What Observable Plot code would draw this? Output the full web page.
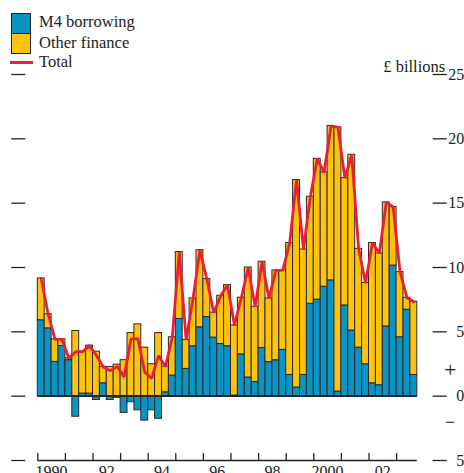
<!DOCTYPE html>
<html>
<head>
<meta charset="utf-8">
<script src="https://cdn.jsdelivr.net/npm/d3@7"></script>
<script src="https://cdn.jsdelivr.net/npm/@observablehq/plot@0.6"></script>
<style>
  body { margin: 0; background: #fff; }
  #wrap { position: relative; width: 464px; height: 473px; overflow: hidden; font-family: "Liberation Serif", serif; color: #222; }
  #chart { position: absolute; left: 0; top: 0; }
  .sw { position: absolute; box-sizing: border-box; border: 1.5px solid #222; }
  .lt { position: absolute; font-size: 16.5px; line-height: 20px; height: 20px; white-space: nowrap; }
</style>
</head>
<body>
<div id="wrap">
  <div id="chart"></div>
  <div class="sw" style="left:11px;top:13px;width:20px;height:21px;background:#0a93c3;"></div>
  <div class="sw" style="left:11px;top:33px;width:20px;height:21px;background:#ffc20e;"></div>
  <div style="position:absolute;left:10px;top:61px;width:23px;height:3px;background:#ec1e35;"></div>
  <div class="lt" style="left:39px;top:12px;">M4 borrowing</div>
  <div class="lt" style="left:39px;top:33px;">Other finance</div>
  <div class="lt" style="left:39px;top:52px;">Total</div>
</div>
<script>
// Quarterly data, 1990 Q1 to 2003 Q3 (£ billions)
const startYear = 1990;
const m4Borrowing = [5.9, 5.27, 2.66, 3.9, 2.8, -1.6, 0.2, 0.2, -0.3, 1.0, -0.3, -0.13, -1.3, -0.47, -1.1, -1.9,
  -1.1, -1.76, 0.3, 1.6, 6.0, 2.12, 3.88, 5.35, 6.15, 4.55, 4.06, 3.88, 0.05, 3.25, 1.45, 1.1,
  3.75, 2.65, 2.79, 3.6, 1.65, 0.67, 1.65, 7.18, 7.5, 8.5, 9.0, 0.36, 7.05, 5.1, 3.77, 2.48,
  1.0, 0.85, 5.42, 10.15, 4.58, 6.72, 1.65];
const otherFinance = [3.25, 1.1, 1.76, 0.52, 0.15, 5.06, 3.26, 3.73, 3.46, 1.27, 2.27, 2.45, 2.8, 4.9, 5.58, 3.77,
  2.48, 4.9, 2.0, 2.98, 5.2, 2.25, 3.72, 6.0, 2.95, 1.94, 3.74, 4.75, 5.45, 4.4, 8.55, 5.85,
  6.7, 4.95, 6.98, 6.2, 10.25, 16.13, 9.75, 8.32, 10.95, 8.9, 12.0, 20.54, 9.9, 13.66, 7.68, 6.32,
  10.9, 10.25, 9.64, 4.55, 5.06, 0.93, 5.69];
const seriesNames = ["M4 borrowing", "Other finance"];
const seriesColors = ["#0a93c3", "#ffc20e"];
const totalColor = "#ec1e35";
const yTicks = [-5, 0, 5, 10, 15, 20, 25];
const yearTicks = [1990, 1991, 1992, 1993, 1994, 1995, 1996, 1997, 1998, 1999, 2000, 2001, 2002, 2003];
const labelYears = [1990, 1992, 1994, 1996, 1998, 2000, 2002];
const xLabels = ["1990", "92", "94", "96", "98", "2000", "02"];
const signs = [{v: 2, s: "+", size: 22}, {v: -2, s: "\u2212", size: 18}];

const rows = [];
const totals = [];
m4Borrowing.forEach((m, i) => {
  const x1 = startYear + i / 4, x2 = startYear + (i + 1) / 4;
  rows.push({x1, x2, series: seriesNames[0], value: m});
  rows.push({x1, x2, series: seriesNames[1], value: otherFinance[i]});
  totals.push({x: (x1 + x2) / 2, total: m + otherFinance[i]});
});
const lastX = startYear + m4Borrowing.length / 4;
const labelMap = new Map(labelYears.map((y, i) => [y + 0.5, xLabels[i]]));

const chart = Plot.plot({
  width: 464,
  height: 473,
  marginLeft: 37.3,
  marginRight: 40.3,
  marginTop: 74,
  marginBottom: 13,
  style: {fontFamily: "'Liberation Serif', serif", fontSize: "16px", color: "#222", background: "transparent"},
  x: {domain: [1990, 2004]},
  y: {domain: [-5, 25]},
  color: {domain: seriesNames, range: seriesColors},
  marks: [
    Plot.rectY(rows, {x1: "x1", x2: "x2", y: "value", fill: "series", stroke: "#2a2a2a", strokeWidth: 1, order: seriesNames}),
    Plot.ruleY([0], {x1: startYear, x2: lastX, stroke: "#222", strokeWidth: 1.6}),
    Plot.ruleY([-5], {x1: startYear, x2: lastX, stroke: "#222", strokeWidth: 1.3}),
    Plot.line(totals, {x: "x", y: "total", stroke: totalColor, strokeWidth: 2.8, strokeLinejoin: "miter"}),
    Plot.axisY({anchor: "right", ticks: yTicks, tickSize: 14, dx: 8, tickFormat: () => "", strokeWidth: 1.3}),
    Plot.axisY({anchor: "left", ticks: yTicks, tickSize: 14, dx: -12, tickFormat: () => "", strokeWidth: 1.3}),
    Plot.text(yTicks, {y: d => d, text: d => String(Math.abs(d)), frameAnchor: "right", dx: 40, textAnchor: "end", fontSize: 16}),
    Plot.axisX({anchor: "bottom", ticks: yearTicks, tickSize: 7, dy: -7, tickFormat: () => "", strokeWidth: 1.3}),
    Plot.axisX({anchor: "bottom", ticks: labelYears.map(y => y + 0.5), tickSize: 0, tickPadding: 5, tickFormat: d => labelMap.get(d), fontSize: 16}),
    Plot.text(signs, {y: "v", text: "s", fontSize: "size", frameAnchor: "right", dx: 26, textAnchor: "middle"}),
    Plot.text(["£ billions"], {frameAnchor: "top-right", text: d => d, dx: 21, dy: -3, textAnchor: "end", lineAnchor: "bottom", fontSize: 16.5})
  ]
});
document.getElementById("chart").appendChild(chart);
</script>
</body>
</html>
